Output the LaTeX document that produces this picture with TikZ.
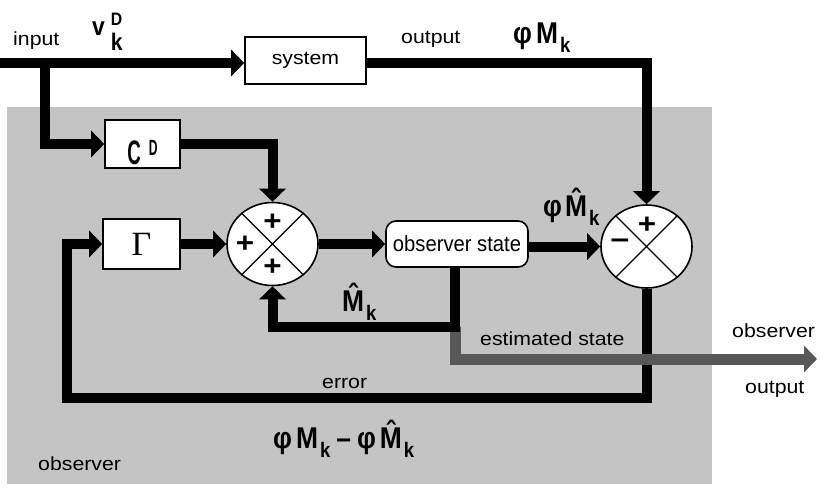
\documentclass[tikz,border=0pt]{standalone}
\usepackage{fontspec}
\setmainfont{Liberation Sans}[FakeStretch=1.12]
\newfontfamily\labf{Liberation Sans}[FakeStretch=0.88]
\newfontfamily\condf{Liberation Sans}[FakeStretch=0.92]
\newfontfamily\narrowf{Liberation Sans}[FakeStretch=0.55]
\newfontfamily\serf{Liberation Serif}
\usetikzlibrary{arrows.meta,shapes.geometric,calc}
\definecolor{bgray}{RGB}{196,196,196}
\definecolor{dgray}{RGB}{88,88,88}
\newcommand\lab[1]{{\labf\bfseries\fontsize{30}{30}\selectfont #1}}
\newcommand\subk{\kern2pt\raisebox{-9pt}{\fontsize{21}{21}\selectfont k}}
\newcommand\hatM{\ooalign{M\cr\hidewidth\raisebox{6pt}{ˆ}\hidewidth\cr}}
\tikzset{
  flow/.style={line width=10pt,-{Triangle[length=13pt,width=26pt]}},
  grayflow/.style={draw=dgray,line width=11pt,-{Triangle[length=13pt,width=26pt]}},
  blk/.style={draw,line width=1.6pt,fill=white,inner sep=0pt,font=\fontsize{19}{21}\selectfont},
  sumj/.style={ellipse,draw,line width=1.6pt,fill=white,minimum width=91pt,minimum height=83pt,inner sep=0pt},
  obsbox/.style={draw,line width=1.6pt,fill=white,rounded corners=10pt,inner sep=0pt,minimum width=142pt,minimum height=46pt,font=\condf\fontsize{22}{22}\selectfont},
  txt/.style={font=\fontsize{19}{21}\selectfont,inner sep=0pt,anchor=base west},
  sym/.style={inner sep=0pt,anchor=base west},
  pm/.style={font=\bfseries\fontsize{28}{28}\selectfont,inner sep=0pt},
  xline/.style={line width=1.3pt}
}
\begin{document}
\begin{tikzpicture}[x=1pt,y=-1pt]
\useasboundingbox (0,0) rectangle (821,490);
\fill[white] (0,0) rectangle (821,490);
\fill[bgray] (7,107) rectangle (712,484);

% blocks
\node[blk,minimum width=121pt,minimum height=47pt] (sys) at (305.5,60.5) {system};
\node[blk,minimum width=75pt,minimum height=48pt,text height=40pt,text depth=0pt] (cd) at (142.5,144)
  {\narrowf\bfseries\fontsize{34}{34}\selectfont C\hspace{8pt}\raisebox{9pt}{\fontsize{22}{22}\selectfont D}};
\node[blk,minimum width=77pt,minimum height=50pt] (gam) at (141.5,244) {\serf\fontsize{34}{34}\selectfont Γ};
\node[sumj] (c1) at (272.5,244) {};
\node[sumj] (c2) at (646.5,246.5) {};
\node[obsbox] (obs) at (457,244) {observer state};

% crosses inside junctions
\draw[xline] (c1.45) -- (c1.225) (c1.135) -- (c1.315);
\draw[xline] (c2.45) -- (c2.225) (c2.135) -- (c2.315);
\node[pm] (p1) at (272.5,222) {+};
\node[pm] (p2) at (245,244) {+};
\node[pm] (p3) at (272.5,267) {+};
\node[pm] (p4) at (647,225) {+};
\node[pm,font=\bfseries\fontsize{30}{30}\selectfont] (m1) at (620,244) {–};

% coordinates
\coordinate (in0) at (0,63);
\coordinate (br) at (44.5,63);
\coordinate (o1) at (646.5,63);
\coordinate (e1) at (646.5,398);
\coordinate (e2) at (67,398);
\coordinate (f1) at (455,327);
\coordinate (go) at (817,359);

% connectors
\draw[flow] (in0) -- (in0 -| sys.west);
\draw[flow] (br) |- (cd.west);
\draw[flow] (sys.east |- o1) -- (o1) -- (c2.north);
\draw[flow] (cd.east) -| (c1.north);
\draw[flow] (gam.east) -- (c1.west);
\draw[flow] (c1.east) -- (obs.west);
\draw[flow] (obs.east |- c2.west) -- (c2.west);
\draw[flow] (c2.south) -- (e1) -- (e2) |- (gam.west);
\draw[grayflow] (f1) |- (go);
\draw[flow] (obs.south -| f1) -- (f1) -| (c1.south);

% labels
\node[txt] (tin) at (13,45) {input};
\node[sym] (tv) at (92,35) {{\labf\bfseries\fontsize{26}{26}\selectfont v\hspace{6pt}\rlap{\raisebox{10pt}{\fontsize{18}{18}\selectfont D}}\raisebox{-15pt}{\fontsize{24}{24}\selectfont k}}};
\node[txt] (tout) at (401,43) {output};
\node[sym] (tpm) at (513,43) {\lab{φ\kern4pt M\subk}};
\node[sym] (tpmh) at (543,216) {\lab{φ\kern3pt\hatM\subk}};
\node[sym] (tmh) at (342,311) {\lab{\hatM\subk}};
\node[txt] (test) at (480,345) {estimated state};
\node[txt] (terr) at (322,388) {error};
\node[sym] (tdiff) at (273,448) {\lab{φ\kern4pt M\subk\kern6pt–\kern6pt φ\kern4pt\hatM\subk}};
\node[txt] (tobs) at (38,470) {observer};
\node[txt] (tobo1) at (732,337) {observer};
\node[txt] (tobo2) at (745,393) {output};
\end{tikzpicture}
\end{document}
